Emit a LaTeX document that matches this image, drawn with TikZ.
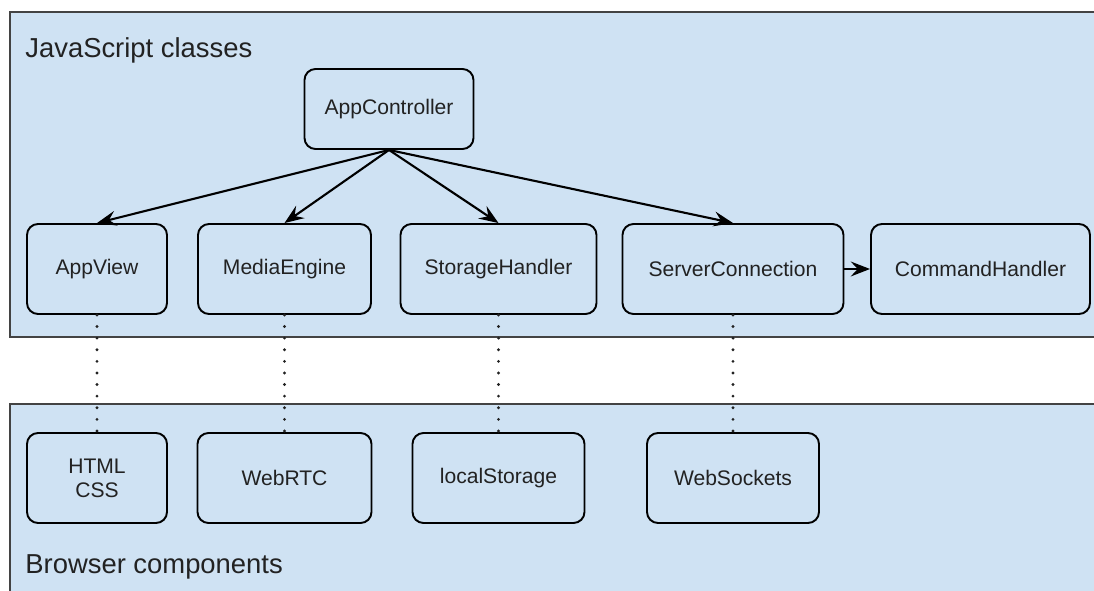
\documentclass[tikz,border=0pt]{standalone}
\usepackage{fontspec}
\setmainfont{Liberation Sans}
\usetikzlibrary{arrows.meta}

\definecolor{bandblue}{HTML}{CFE2F3}
\definecolor{inkgray}{HTML}{222222}

\tikzset{
  cls/.style={draw=black,line width=1.1pt,rounded corners=0.22cm,minimum height=1.8cm,inner sep=0pt,align=center,font=\fontsize{12}{13.6}\selectfont,text=inkgray},
  band/.style={draw=inkgray!85,fill=bandblue,line width=1.1pt},
  calls/.style={-{Stealth[length=11pt,width=8.5pt,inset=4pt]},line width=1.2pt},
  uses/.style={line width=1.8pt,line cap=round,dash pattern=on 0pt off 6.6pt,draw=inkgray},
  caption/.style={anchor=base west,inner sep=0pt,font=\fontsize{15.6}{18}\selectfont,text=inkgray}
}

\begin{document}
\begin{tikzpicture}
    \useasboundingbox(0,0)rectangle(21.88,11.8);
    \fill[white](0,0)rectangle(21.88,11.8);

    \draw[band](0.2,5.06)rectangle(22.5,11.56);
    \draw[band](0.2,-0.5)rectangle(22.5,3.72);
    \node[caption](jstitle)at(0.5,10.64){JavaScript classes};
    \node[caption](brtitle)at(0.5,0.34){Browser components};

    \node[cls,minimum width=3.38cm,minimum height=1.6cm](ctrl)at(7.78,9.62){AppController};

    \node[cls,minimum width=2.8cm](view)at(1.94,6.42){AppView};
    \node[cls,minimum width=3.46cm](media)at(5.69,6.42){MediaEngine};
    \node[cls,minimum width=3.92cm](storage)at(9.97,6.42){StorageHandler};
    \node[cls,minimum width=4.42cm](server)at(14.66,6.42){ServerConnection};
    \node[cls,minimum width=4.38cm](command)at(19.61,6.42){CommandHandler};

    \node[cls,minimum width=2.8cm](html)at(1.94,2.24){HTML\\CSS};
    \node[cls,minimum width=3.48cm](webrtc)at(5.69,2.24){WebRTC};
    \node[cls,minimum width=3.44cm](local)at(9.97,2.24){localStorage};
    \node[cls,minimum width=3.44cm](sockets)at(14.66,2.24){WebSockets};

    \draw[calls](ctrl.south)--(view.north);
    \draw[calls](ctrl.south)--(media.north);
    \draw[calls](ctrl.south)--(storage.north);
    \draw[calls](ctrl.south)--(server.north);
    \draw[calls](server)--(command);

    \draw[uses](view.south)--(html.north);
    \draw[uses](media.south)--(webrtc.north);
    \draw[uses](storage.south)--(local.north);
    \draw[uses](server.south)--(sockets.north);
\end{tikzpicture}
\end{document}
